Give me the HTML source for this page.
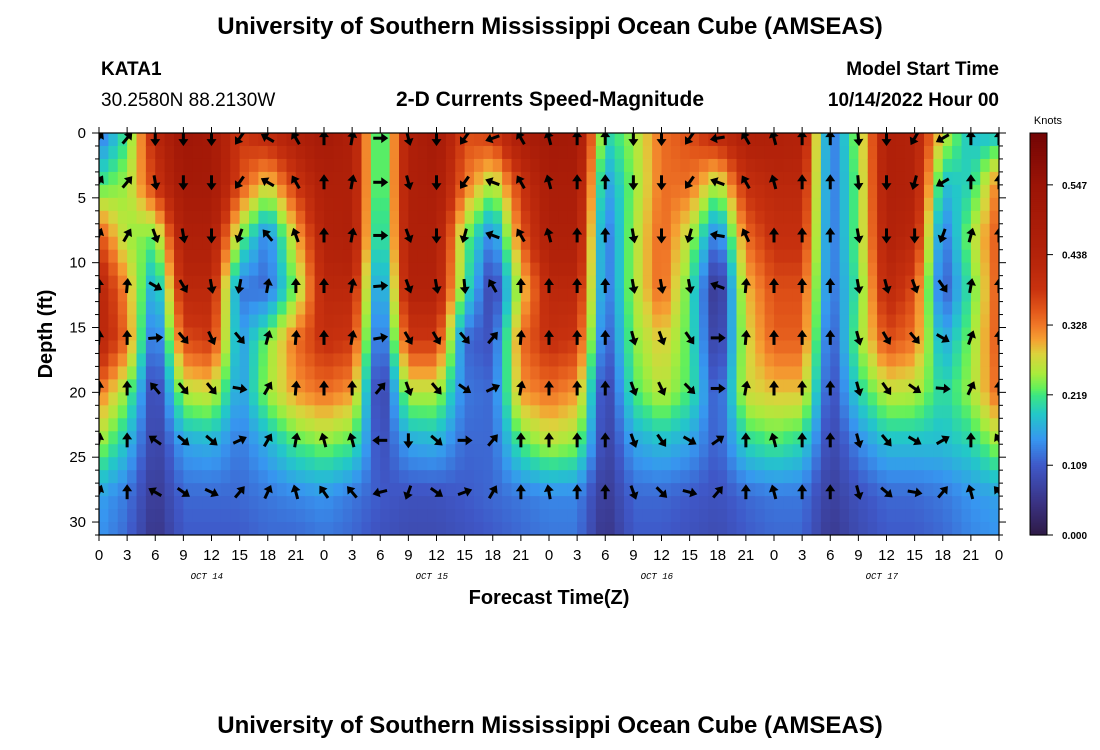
<!DOCTYPE html>
<html><head><meta charset="utf-8"><style>
body{margin:0;background:#fff;width:1100px;height:750px;overflow:hidden;font-family:"Liberation Sans",Arial,sans-serif}
svg{position:absolute;left:0;top:0}
</style></head><body>
<svg id="chart" width="1100" height="750">
<text x="550" y="34" text-anchor="middle" font-size="24" font-weight="bold">University of Southern Mississippi Ocean Cube (AMSEAS)</text>
<text x="101" y="75" font-size="19" font-weight="bold">KATA1</text>
<text x="101" y="106" font-size="19">30.2580N  88.2130W</text>
<text x="550" y="106" text-anchor="middle" font-size="21" font-weight="bold">2-D Currents Speed-Magnitude</text>
<text x="999" y="75" text-anchor="end" font-size="19" font-weight="bold">Model Start Time</text>
<text x="999" y="106" text-anchor="end" font-size="19" font-weight="bold">10/14/2022 Hour 00</text>
<text transform="translate(52,334) rotate(-90)" text-anchor="middle" font-size="20" font-weight="bold">Depth (ft)</text>
<text x="549" y="604" text-anchor="middle" font-size="20" font-weight="bold">Forecast Time(Z)</text>
<text x="550" y="733" text-anchor="middle" font-size="24" font-weight="bold">University of Southern Mississippi Ocean Cube (AMSEAS)</text>
<text x="1048" y="124" text-anchor="middle" font-size="11">Knots</text>
<defs><clipPath id="pc"><rect x="99" y="133" width="900" height="402"/></clipPath></defs>
<g id="cells" clip-path="url(#pc)"></g>
<g id="arrows" clip-path="url(#pc)"></g>
<g id="axes"></g>
<g id="cbar"></g>
</svg>
<script>
const hours = [0,3,6,9,12,15,18,21,24,27,30,33,36,39,42,45,48,51,54,57,60,63,66,69,72,75,78,81,84,87,90,93,96];
const depths = [0,4,8,12,16,20,24,28,31];
const speed0 = [0.12,0.22,0.42,0.53,0.505,0.38,0.42,0.46,0.505,0.46,0.18,0.46,0.505,0.36,0.38,0.48,0.515,0.505,0.20,0.25,0.335,0.36,0.42,0.46,0.46,0.445,0.12,0.25,0.46,0.445,0.275,0.18,0.18];
const speed4 = [0.22,0.25,0.38,0.505,0.505,0.36,0.275,0.38,0.46,0.46,0.18,0.46,0.48,0.335,0.25,0.38,0.48,0.48,0.15,0.24,0.335,0.335,0.25,0.395,0.42,0.42,0.12,0.24,0.46,0.445,0.18,0.20,0.335];
const speed8 = [0.36,0.25,0.23,0.46,0.46,0.24,0.13,0.29,0.445,0.46,0.16,0.46,0.46,0.24,0.13,0.345,0.46,0.46,0.12,0.25,0.345,0.26,0.12,0.335,0.395,0.395,0.12,0.24,0.445,0.42,0.12,0.25,0.36];
const speed12 = [0.435,0.31,0.15,0.42,0.42,0.13,0.12,0.24,0.42,0.42,0.12,0.445,0.445,0.22,0.07,0.275,0.42,0.42,0.12,0.25,0.345,0.22,0.04,0.29,0.36,0.36,0.12,0.22,0.42,0.36,0.10,0.22,0.36];
const speed16 = [0.435,0.335,0.10,0.36,0.38,0.15,0.24,0.335,0.395,0.38,0.09,0.38,0.38,0.12,0.10,0.335,0.395,0.38,0.10,0.24,0.29,0.22,0.06,0.275,0.345,0.345,0.10,0.24,0.36,0.33,0.16,0.24,0.36];
const speed20 = [0.33,0.24,0.07,0.26,0.275,0.15,0.25,0.31,0.335,0.31,0.06,0.26,0.26,0.13,0.12,0.31,0.335,0.31,0.07,0.22,0.265,0.22,0.10,0.275,0.29,0.29,0.09,0.20,0.265,0.26,0.20,0.25,0.345];
const speed24 = [0.25,0.18,0.07,0.16,0.17,0.13,0.17,0.22,0.24,0.22,0.09,0.16,0.17,0.12,0.12,0.22,0.26,0.24,0.07,0.16,0.18,0.16,0.11,0.20,0.22,0.20,0.08,0.14,0.18,0.18,0.18,0.20,0.25];
const speed28 = [0.16,0.13,0.06,0.12,0.12,0.12,0.13,0.14,0.15,0.13,0.11,0.10,0.10,0.11,0.12,0.13,0.14,0.14,0.06,0.12,0.12,0.11,0.10,0.12,0.13,0.13,0.07,0.10,0.12,0.12,0.13,0.15,0.16];
const speed31 = [0.15,0.12,0.05,0.11,0.11,0.11,0.12,0.12,0.13,0.12,0.10,0.09,0.09,0.10,0.11,0.12,0.13,0.13,0.05,0.11,0.11,0.10,0.09,0.11,0.12,0.12,0.06,0.09,0.11,0.11,0.12,0.14,0.15];
const arrowDepths = [0.4,3.8,7.9,11.8,15.8,19.7,23.7,27.7];
const dir0 = [30,40,180,180,180,215,300,330,0,10,90,165,180,215,250,330,345,0,0,180,180,215,260,330,345,0,0,175,180,210,240,0,0];
const dir1 = [30,40,170,180,180,215,300,330,0,10,90,165,180,215,290,330,345,0,0,180,180,215,290,330,345,0,0,175,180,195,240,0,0];
const dir2 = [20,30,160,170,180,200,320,340,0,10,90,160,180,195,290,330,345,0,0,170,180,195,280,335,0,0,0,170,180,180,200,15,0];
const dir3 = [0,5,120,150,170,190,10,0,0,10,85,160,170,175,330,0,0,0,0,170,170,170,290,5,0,0,0,170,165,160,145,10,0];
const dir4 = [5,0,85,140,155,140,15,5,0,10,80,150,150,140,40,5,0,0,0,165,160,145,90,5,0,0,0,165,150,140,120,20,0];
const dir5 = [5,0,320,140,140,100,30,5,0,0,40,160,140,125,65,10,0,0,0,160,155,135,90,10,0,0,0,165,145,125,95,25,0];
const dir6 = [10,0,305,130,130,65,30,10,345,345,270,180,130,90,40,0,0,0,0,160,145,120,55,0,345,0,0,165,140,120,60,0,330];
const dir7 = [20,0,300,125,115,40,25,345,325,320,255,200,125,70,30,0,350,0,0,160,135,105,40,0,345,0,0,165,130,100,40,345,320];
const speedRows = [speed0,speed4,speed8,speed12,speed16,speed20,speed24,speed28,speed31];
const dirRows = [dir0,dir1,dir2,dir3,dir4,dir5,dir6,dir7];
const cbTicks = [0.000,0.109,0.219,0.328,0.438,0.547];
const xTickLabels = ["0","3","6","9","12","15","18","21","0","3","6","9","12","15","18","21","0","3","6","9","12","15","18","21","0","3","6","9","12","15","18","21","0"];
const dayLabels = ["OCT 14","OCT 15","OCT 16","OCT 17"];
const yTicks = [0,5,10,15,20,25,30];

const X0=99,X1=999,Y0=133,Y1=535,HMAX=96,DMAX=31,VMAX=0.628;
const xs=h=>X0+(h/HMAX)*(X1-X0);
const ys=d=>Y0+(d/DMAX)*(Y1-Y0);
const NS='http://www.w3.org/2000/svg';
const cmapStops=[[0,[46,26,69]],[0.05,[58,50,130]],[0.109,[63,88,200]],[0.15,[55,150,240]],[0.19,[35,200,200]],[0.219,[60,230,130]],[0.23,[100,240,90]],[0.253,[170,235,60]],[0.284,[220,210,60]],[0.306,[245,160,50]],[0.328,[240,120,40]],[0.353,[225,85,25]],[0.385,[200,50,15]],[0.438,[180,35,10]],[0.547,[155,20,6]],[0.628,[115,5,5]]];
function cmap(v){v=Math.max(0,Math.min(VMAX,v));
for(let i=0;i<cmapStops.length-1;i++){const [a,ca]=cmapStops[i],[b,cb]=cmapStops[i+1];
if(v<=b){const f=(v-a)/(b-a);return `rgb(${ca.map((c,k)=>Math.round(c+(cb[k]-c)*f)).join(',')})`;}}
return 'rgb(115,5,5)';}
function idx(arr,v){for(let i=0;i<arr.length-1;i++){if(v<=arr[i+1])return [i,(v-arr[i])/(arr[i+1]-arr[i])];}return [arr.length-2,1];}
function val(h,d){const [i,fi]=idx(hours,h),[j,fj]=idx(depths,d);
const a=speedRows[j][i],b=speedRows[j][i+1],c=speedRows[j+1][i],e=speedRows[j+1][i+1];
return (a*(1-fi)+b*fi)*(1-fj)+(c*(1-fi)+e*fi)*fj;}
function mk(tag,attrs,parent){const el=document.createElementNS(NS,tag);for(const k in attrs)el.setAttribute(k,attrs[k]);parent.appendChild(el);return el;}
const cells=document.getElementById('cells');
for(let h=0;h<HMAX;h+=1){for(let d=0;d<DMAX;d+=1){
const v=val(h+0.5,d+0.5);
const r=mk('rect',{x:xs(h),y:ys(d),width:xs(h+1)-xs(h)+0.6,height:ys(d+1)-ys(d)+0.6,fill:cmap(v)},cells);

}}
const arrows=document.getElementById('arrows');
arrowDepths.forEach((d,j)=>{hours.forEach((h,i)=>{
const g=mk('g',{transform:`translate(${xs(h)},${ys(d)}) rotate(${dirRows[j][i]})`},arrows);


mk('line',{x1:0,y1:7,x2:0,y2:-2,stroke:'#000','stroke-width':3},g);
mk('polygon',{points:'-5,-1 0,-8 5,-1',fill:'#000'},g);});});
const ax=document.getElementById('axes');
mk('rect',{x:X0,y:Y0,width:X1-X0,height:Y1-Y0,fill:'none',stroke:'#000','stroke-width':1.2},ax);
hours.forEach((h,i)=>{
mk('line',{x1:xs(h),y1:Y1,x2:xs(h),y2:Y1+6,stroke:'#000'},ax);
mk('line',{x1:xs(h),y1:Y0-6,x2:xs(h),y2:Y0,stroke:'#000'},ax);
const t=mk('text',{x:xs(h),y:Y1+25,'text-anchor':'middle','font-size':15},ax);t.textContent=xTickLabels[i];

});
dayLabels.forEach((s,i)=>{const t=mk('text',{x:xs(11.5+24*i),y:579,'text-anchor':'middle','font-size':9,'font-style':'italic','font-family':'Liberation Mono, monospace'},ax);t.textContent=s;

});
for(let d=0;d<=DMAX;d++){const L=(d%5==0)?7:4;
mk('line',{x1:X0-L,y1:ys(d),x2:X0,y2:ys(d),stroke:'#000'},ax);
mk('line',{x1:X1,y1:ys(d),x2:X1+L,y2:ys(d),stroke:'#000'},ax);}
yTicks.forEach(d=>{const t=mk('text',{x:86,y:ys(d)+5,'text-anchor':'end','font-size':15},ax);t.textContent=d;

});
const cb=document.getElementById('cbar');
for(let k=0;k<200;k++){const v0=(k+0.5)/200*VMAX;mk('rect',{x:1030,y:Y1-(k+1)/200*(Y1-Y0),width:17,height:(Y1-Y0)/200+0.6,fill:cmap(v0)},cb);}
mk('rect',{x:1030,y:Y0,width:17,height:Y1-Y0,fill:'none',stroke:'#000'},cb);
cbTicks.forEach(v=>{const y=Y1-v/VMAX*(Y1-Y0);
mk('line',{x1:1047,y1:y,x2:1053,y2:y,stroke:'#000'},cb);
const t=mk('text',{x:1062,y:y+4,'font-size':10,'font-weight':'bold'},cb);t.textContent=v.toFixed(3);

});
</script>
</body></html>
